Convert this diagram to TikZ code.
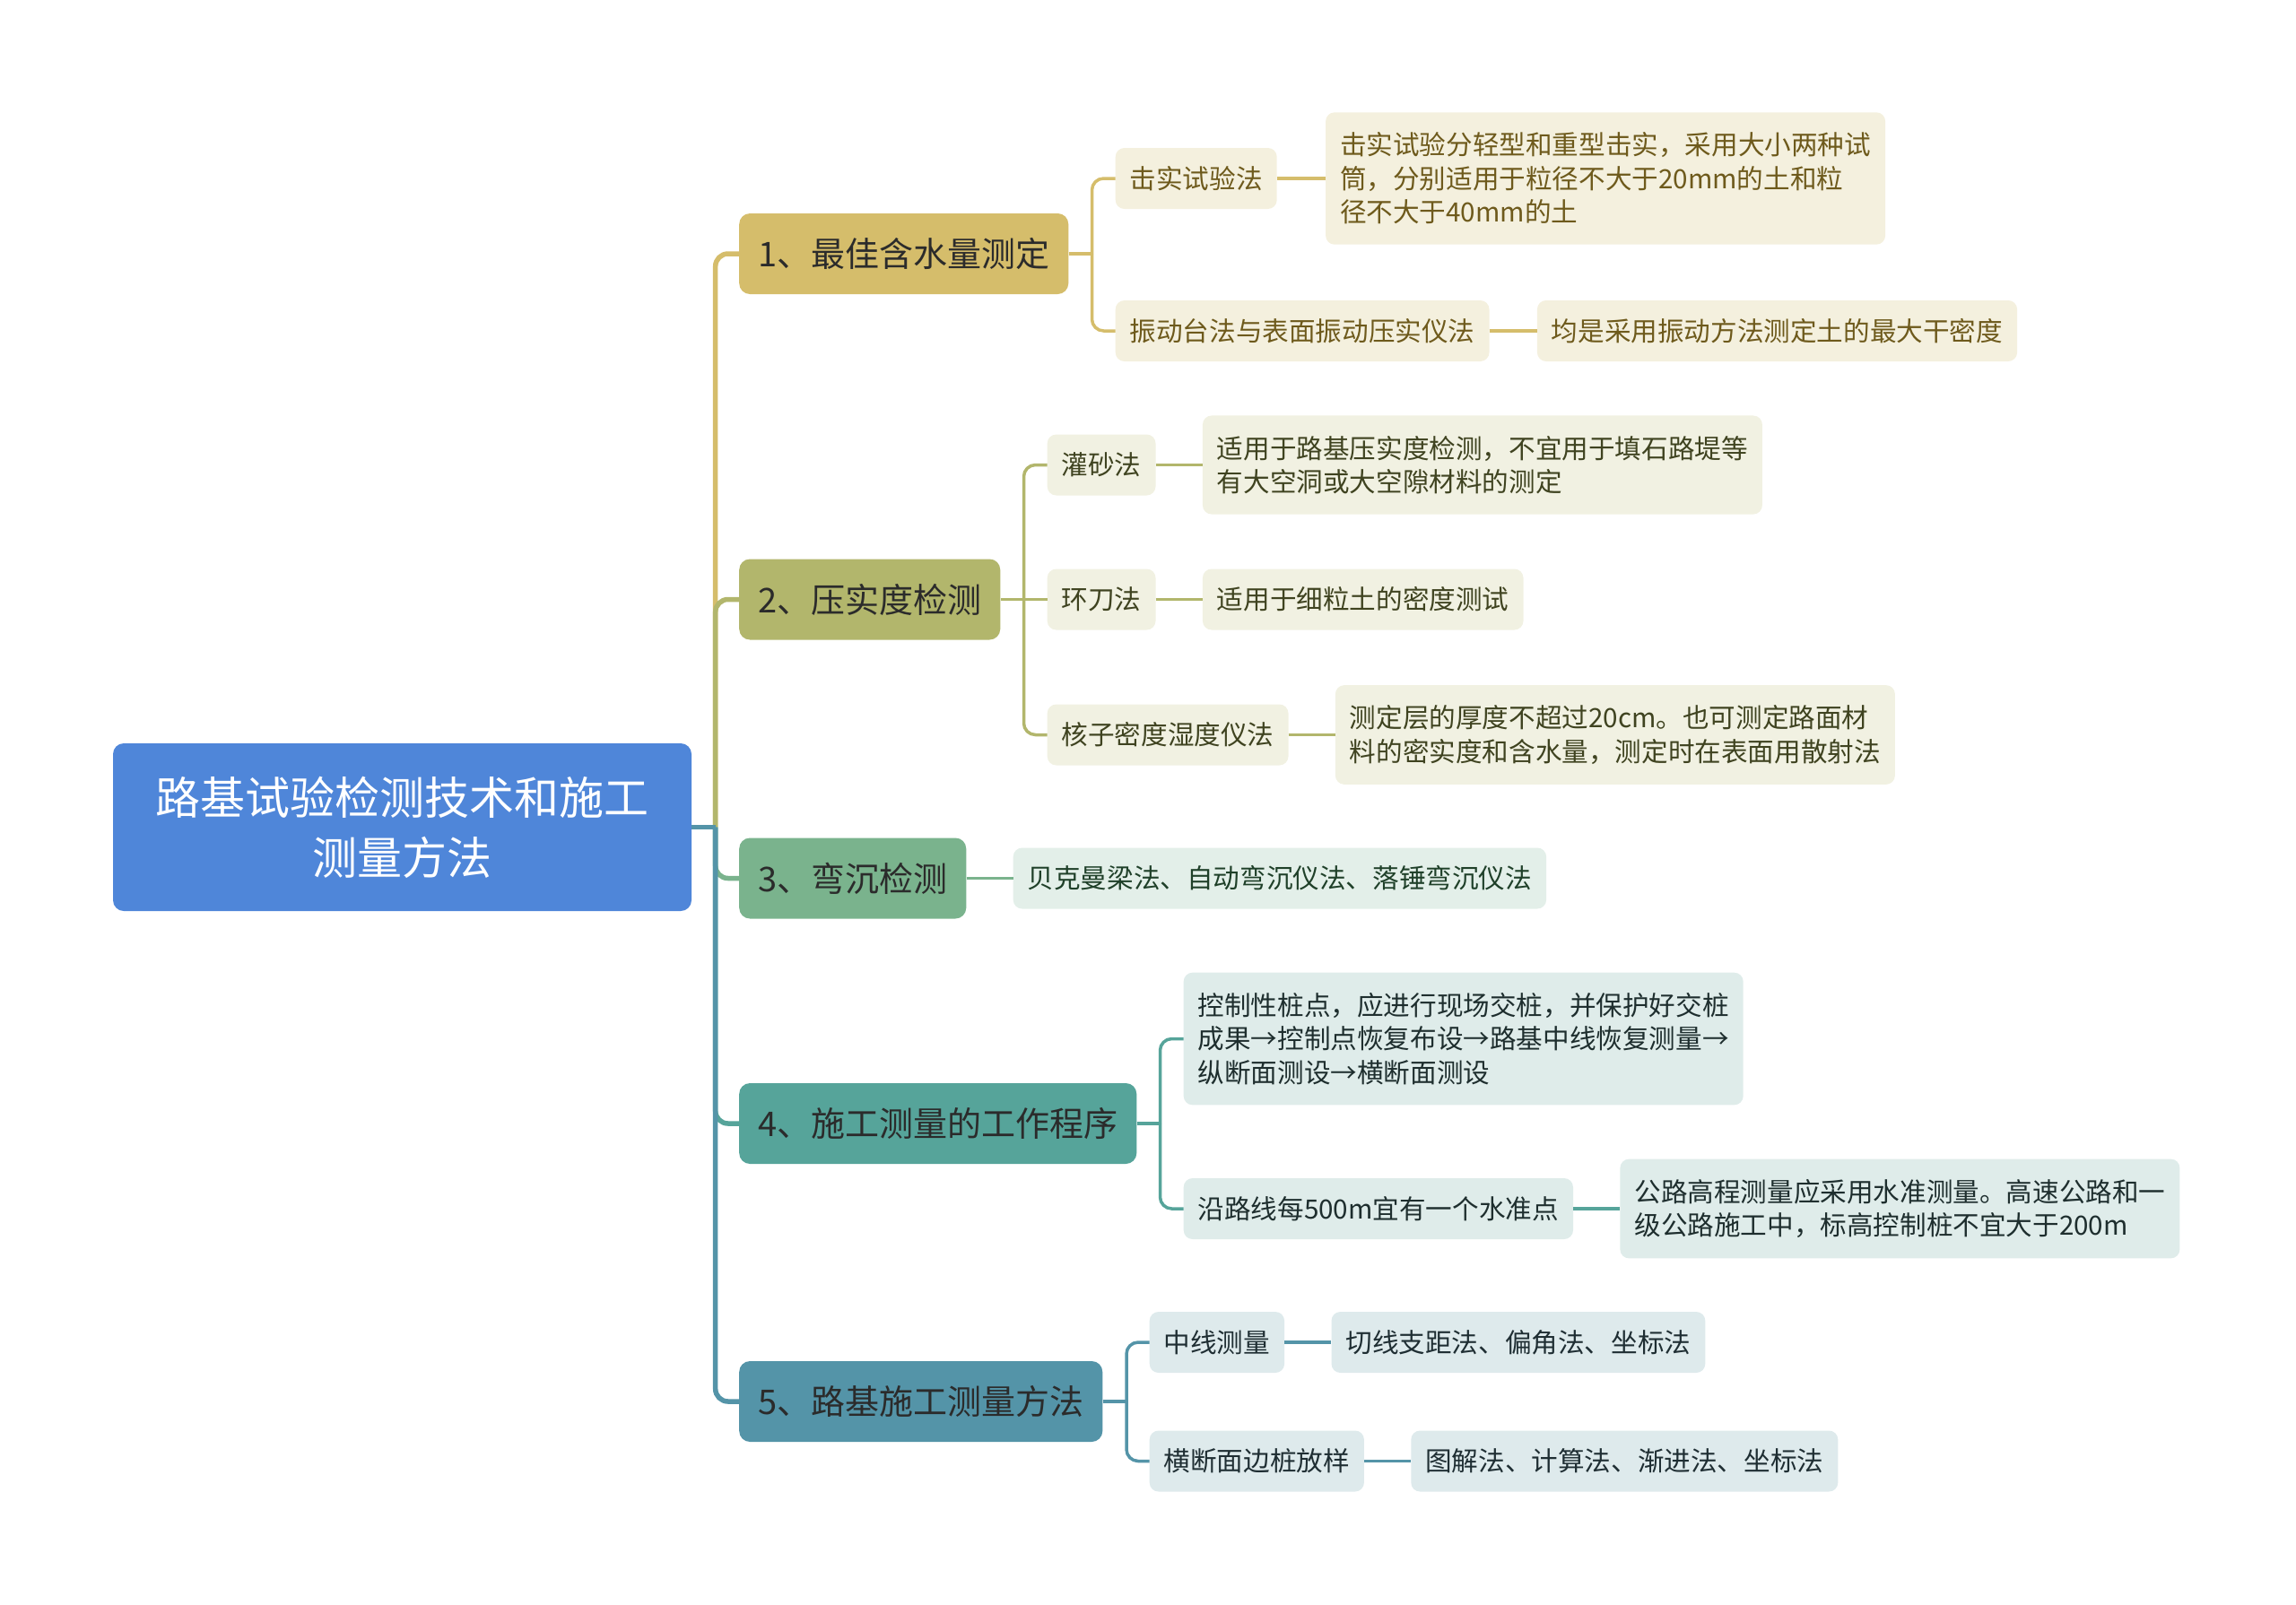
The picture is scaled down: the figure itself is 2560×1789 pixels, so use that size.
\documentclass[tikz,border=0pt]{standalone}
\usepackage{fontspec}
\setmainfont{Noto Sans CJK SC}
\usetikzlibrary{positioning}
\definecolor{rootblue}{HTML}{4F86D9}
\definecolor{topictext}{HTML}{2B2B2B}
\definecolor{goldA}{HTML}{D5BD6B}
\definecolor{goldB}{HTML}{F4F0DE}
\definecolor{goldT}{HTML}{6E5A1C}
\definecolor{oliveA}{HTML}{B2B66C}
\definecolor{oliveB}{HTML}{F1F1E2}
\definecolor{oliveT}{HTML}{3F4320}
\definecolor{greenA}{HTML}{7AB38D}
\definecolor{greenB}{HTML}{E3EFE9}
\definecolor{greenT}{HTML}{1F4029}
\definecolor{tealA}{HTML}{56A49A}
\definecolor{tealB}{HTML}{DFECEA}
\definecolor{tealT}{HTML}{1E2E2E}
\definecolor{blueA}{HTML}{5494A8}
\definecolor{blueB}{HTML}{DEEAEC}
\definecolor{blueT}{HTML}{1F2E33}

\begin{document}
\begin{tikzpicture}[x=1pt, y=-1pt,
  root/.style={rectangle, rounded corners=12pt, fill=rootblue, text=white, minimum width=645pt, minimum height=187pt, align=center, font=\fontsize{50pt}{67pt}\selectfont},
  topic/.style={rectangle, rounded corners=12pt, minimum height=90pt, inner xsep=21pt, anchor=west, text=topictext, font=\fontsize{38pt}{46pt}\selectfont},
  sub/.style={rectangle, rounded corners=10pt, minimum height=68pt, inner xsep=16pt, inner ysep=18pt, align=left, font=\fontsize{29.6pt}{37.5pt}\selectfont},
  tall/.style={inner ysep=22.5pt},
  goldsub/.style={sub, fill=goldB, text=goldT},
  olivesub/.style={sub, fill=oliveB, text=oliveT},
  greensub/.style={sub, fill=greenB, text=greenT},
  tealsub/.style={sub, fill=tealB, text=tealT},
  bluesub/.style={sub, fill=blueB, text=blueT},
  trunk/.style={line width=5.5pt, rounded corners=14pt},
  twig/.style={line width=3.5pt, rounded corners=13pt}]
\useasboundingbox (0,0) rectangle (2560,1789);

% ROOT
\node [root] (root) at (448.5,922.5) {路基试验检测技术和施工\\测量方法};

% OPTIMUM MOISTURE
\node [topic, fill=goldA] (best) at (824,283) {1、最佳含水量测定};
\node [goldsub, right=52pt of best, yshift=84pt] (compact) {击实试验法};
\node [goldsub, tall, right=54pt of compact] (compactnote) {击实试验分轻型和重型击实，采用大小两种试\\筒，分别适用于粒径不大于20mm的土和粒\\径不大于40mm的土};
\node [goldsub, right=52pt of best, yshift=-86pt] (vibro) {振动台法与表面振动压实仪法};
\node [goldsub, right=53pt of vibro] (vibronote) {均是采用振动方法测定土的最大干密度};

% COMPACTION
\node [topic, fill=oliveA] (density) at (824,668.5) {2、压实度检测};
\node [olivesub, right=52pt of density, yshift=150pt] (sand) {灌砂法};
\node [olivesub, tall, right=52pt of sand] (sandnote) {适用于路基压实度检测，不宜用于填石路堤等\\有大空洞或大空隙材料的测定};
\node [olivesub, right=52pt of density] (ring) {环刀法};
\node [olivesub, right=52pt of ring] (ringnote) {适用于细粒土的密度测试};
\node [olivesub, right=52pt of density, yshift=-151pt] (nuclear) {核子密度湿度仪法};
\node [olivesub, tall, right=52pt of nuclear] (nuclearnote) {测定层的厚度不超过20cm。也可测定路面材\\料的密实度和含水量，测定时在表面用散射法};

% DEFLECTION
\node [topic, fill=greenA] (deflect) at (824,979.5) {3、弯沉检测};
\node [greensub, right=52pt of deflect] (deflectnote) {贝克曼梁法、自动弯沉仪法、落锤弯沉仪法};

% SURVEY PROCEDURE
\node [topic, fill=tealA] (survey) at (824,1253) {4、施工测量的工作程序};
\node [tealsub, tall, right=52pt of survey, yshift=94.5pt] (control) {控制性桩点，应进行现场交桩，并保护好交桩\\成果→控制点恢复布设→路基中线恢复测量→\\纵断面测设→横断面测设};
\node [tealsub, right=52pt of survey, yshift=-95pt] (bench) {沿路线每500m宜有一个水准点};
\node [tealsub, tall, right=52pt of bench] (benchnote) {公路高程测量应采用水准测量。高速公路和一\\级公路施工中，标高控制桩不宜大于200m};

% SURVEY METHODS
\node [topic, fill=blueA] (method) at (824,1563) {5、路基施工测量方法};
\node [bluesub, right=52pt of method, yshift=66pt] (center) {中线测量};
\node [bluesub, right=52pt of center] (centernote) {切线支距法、偏角法、坐标法};
\node [bluesub, right=52pt of method, yshift=-66.5pt] (cross) {横断面边桩放样};
\node [bluesub, right=52pt of cross] (crossnote) {图解法、计算法、渐进法、坐标法};

% forks
\coordinate (fork) at ([xshift=26.5pt]root.east);
\coordinate (fork1) at ([xshift=26pt]best.east);
\coordinate (fork2) at ([xshift=26pt]density.east);
\coordinate (fork4) at ([xshift=26pt]survey.east);
\coordinate (fork5) at ([xshift=26.5pt]method.east);

\draw [trunk, goldA] (fork) |- (best.west);
\draw [trunk, oliveA] (fork) |- (density.west);
\draw [trunk, greenA] (fork) |- (deflect.west);
\draw [trunk, tealA] (fork) |- (survey.west);
\draw [trunk, blueA] (fork) |- (method.west);
\draw [trunk, blueA] (root.east) -- (fork);

\draw [twig, goldA] (best.east) -- (fork1);
\draw [twig, goldA] (fork1) |- (compact.west);
\draw [twig, goldA] (fork1) |- (vibro.west);
\draw [twig, goldA] (compact.east) -- (compactnote.west);
\draw [twig, goldA] (vibro.east) -- (vibronote.west);

\draw [twig, oliveA] (density.east) -- (ring.west);
\draw [twig, oliveA] (fork2) |- (sand.west);
\draw [twig, oliveA] (fork2) |- (nuclear.west);
\draw [twig, oliveA] (sand.east) -- (sandnote.west);
\draw [twig, oliveA] (ring.east) -- (ringnote.west);
\draw [twig, oliveA] (nuclear.east) -- (nuclearnote.west);

\draw [twig, greenA] (deflect.east) -- (deflectnote.west);

\draw [twig, tealA] (survey.east) -- (fork4);
\draw [twig, tealA] (fork4) |- (control.west);
\draw [twig, tealA] (fork4) |- (bench.west);
\draw [twig, tealA] (bench.east) -- (benchnote.west);

\draw [twig, blueA] (method.east) -- (fork5);
\draw [twig, blueA] (fork5) |- (center.west);
\draw [twig, blueA] (fork5) |- (cross.west);
\draw [twig, blueA] (center.east) -- (centernote.west);
\draw [twig, blueA] (cross.east) -- (crossnote.west);
\end{tikzpicture}
\end{document}
